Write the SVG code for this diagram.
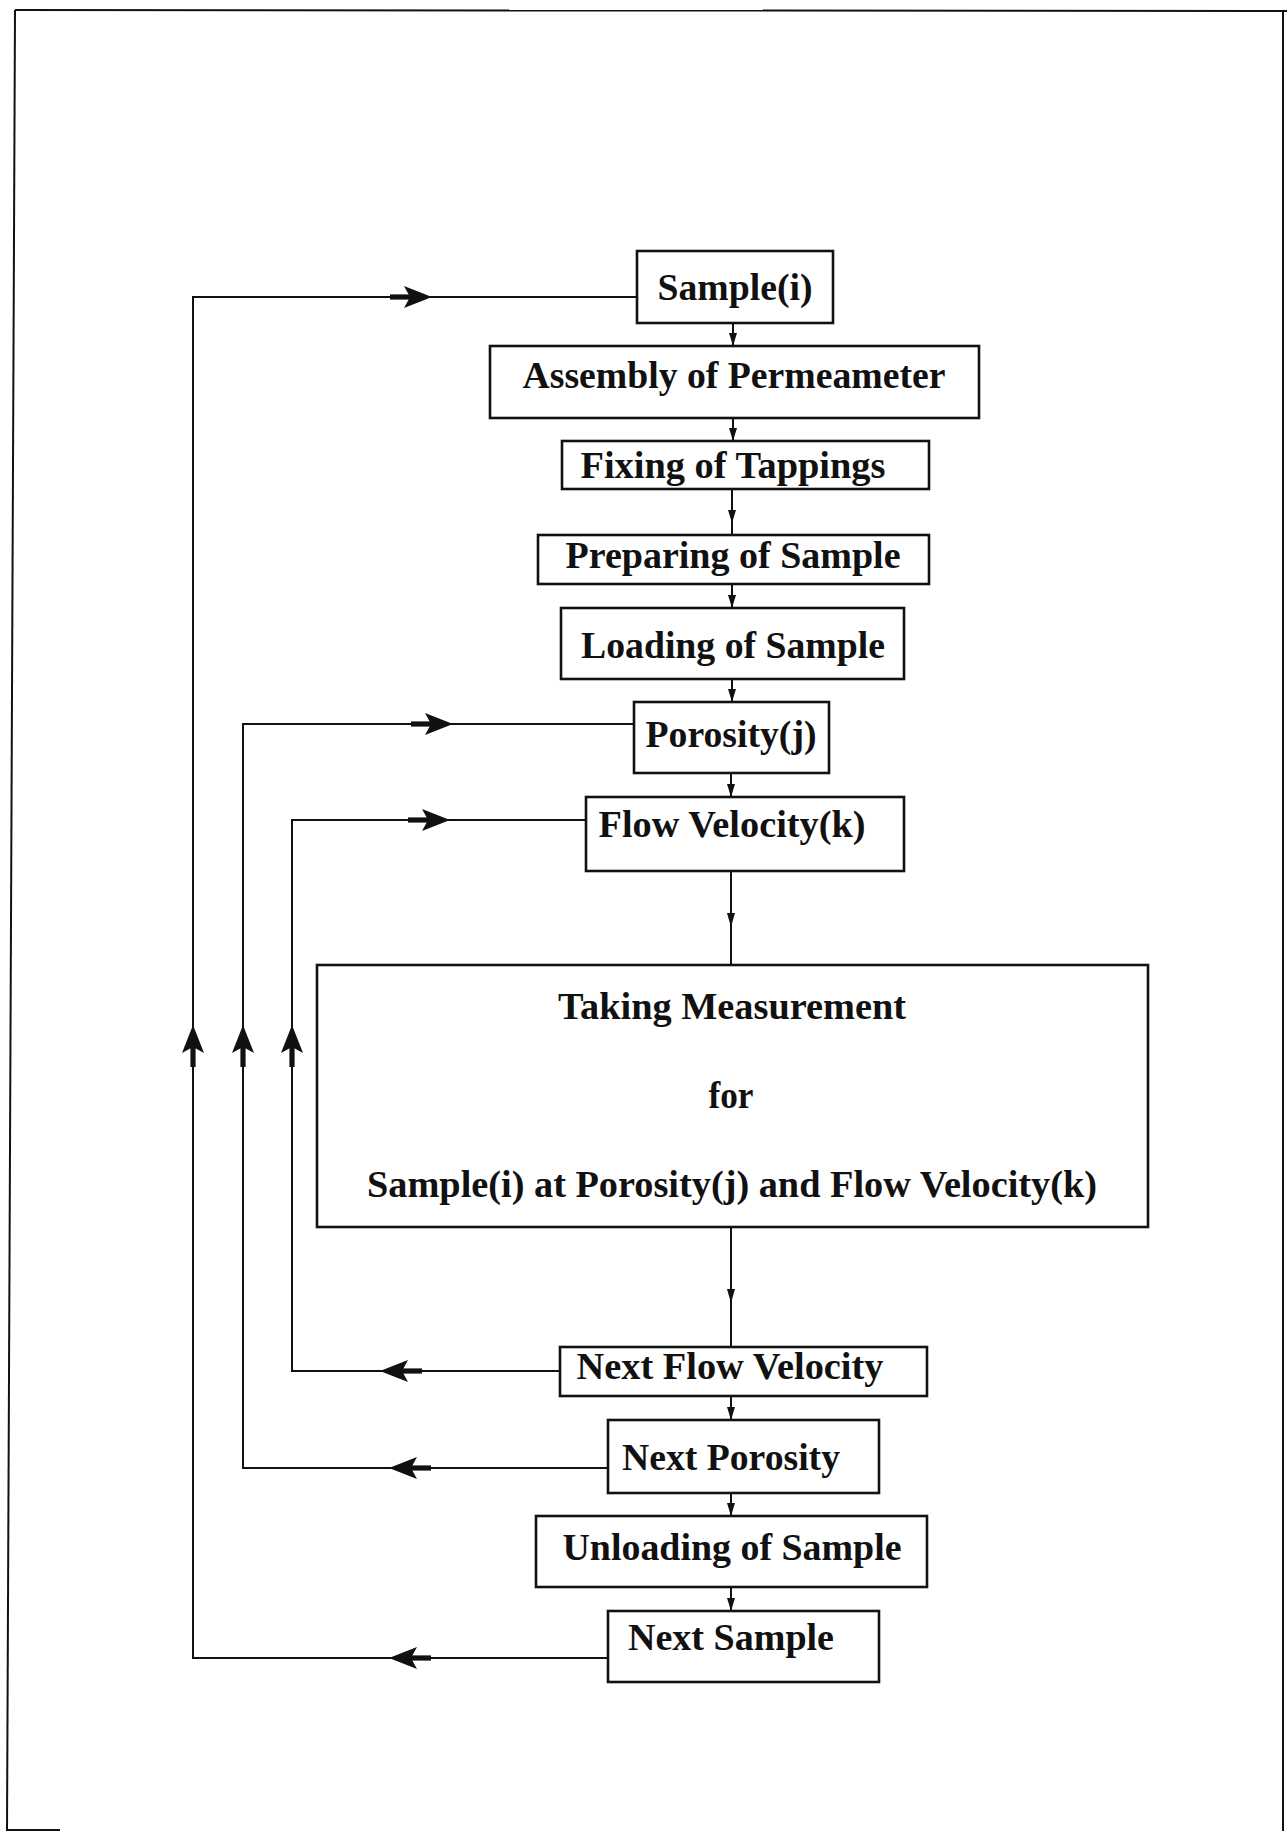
<svg xmlns="http://www.w3.org/2000/svg" width="1287" height="1831" viewBox="0 0 1287 1831">
<style>
.box{fill:#fff;stroke:#111;stroke-width:2.6}
.lbl{font-family:"Liberation Serif","Times New Roman",serif;font-weight:bold;font-size:38px;fill:#111;text-anchor:middle}
.ln{fill:none;stroke:#111;stroke-width:2}
.frame{fill:none;stroke:#111;stroke-width:2}
.sa{fill:#111}
</style>
<defs>
<g id="big">
<polygon points="0,0 -28,-11 -22,0 -28,11" fill="#111"/>
<rect x="-42" y="-2.6" width="21" height="5.2" fill="#111"/>
</g>
</defs>

<g id="frame">
<line class="frame" x1="15" y1="10" x2="1287" y2="11"/>
<line class="frame" x1="15" y1="10" x2="7" y2="1831"/>
<line class="frame" x1="1283" y1="10" x2="1283" y2="1831"/>
<line class="frame" x1="7" y1="1830" x2="60" y2="1830"/>
</g>

<g id="connectors">
<line class="ln" x1="733" y1="323" x2="733" y2="346"/>
<line class="ln" x1="733" y1="418" x2="733" y2="441"/>
<line class="ln" x1="732" y1="489" x2="732" y2="535"/>
<line class="ln" x1="732" y1="584" x2="732" y2="608"/>
<line class="ln" x1="732" y1="679" x2="732" y2="702"/>
<line class="ln" x1="731" y1="773" x2="731" y2="797"/>
<line class="ln" x1="731" y1="871" x2="731" y2="965"/>
<line class="ln" x1="731" y1="1227" x2="731" y2="1347"/>
<line class="ln" x1="731" y1="1396" x2="731" y2="1420"/>
<line class="ln" x1="731" y1="1493" x2="731" y2="1516"/>
<line class="ln" x1="731" y1="1587" x2="731" y2="1611"/>
<polygon class="sa" points="733,346 729,333 737,333"/>
<polygon class="sa" points="733,441 729,428 737,428"/>
<polygon class="sa" points="732,523 728,510 736,510"/>
<polygon class="sa" points="732,608 728,595 736,595"/>
<polygon class="sa" points="732,702 728,689 736,689"/>
<polygon class="sa" points="731,797 727,784 735,784"/>
<polygon class="sa" points="731,927 727,913 735,913"/>
<polygon class="sa" points="731,1303 727,1289 735,1289"/>
<polygon class="sa" points="731,1420 727,1407 735,1407"/>
<polygon class="sa" points="731,1516 727,1503 735,1503"/>
<polygon class="sa" points="731,1611 727,1598 735,1598"/>
<polyline class="ln" points="608,1658 193,1658 193,297 637,297"/>
<polyline class="ln" points="608,1468 243,1468 243,724 634,724"/>
<polyline class="ln" points="560,1371 292,1371 292,820 586,820"/>
<use href="#big" transform="translate(432,297)"/>
<use href="#big" transform="translate(453,724)"/>
<use href="#big" transform="translate(450,820)"/>
<use href="#big" transform="translate(380,1371) rotate(180)"/>
<use href="#big" transform="translate(389,1468) rotate(180)"/>
<use href="#big" transform="translate(389,1658) rotate(180)"/>
<use href="#big" transform="translate(193,1025) rotate(-90)"/>
<use href="#big" transform="translate(243,1025) rotate(-90)"/>
<use href="#big" transform="translate(292,1025) rotate(-90)"/>
</g>

<g id="n-sample"><rect class="box" x="637" y="251" width="196" height="72"/><text class="lbl" x="735" y="300" textLength="155" lengthAdjust="spacingAndGlyphs">Sample(i)</text></g>
<g id="n-assembly"><rect class="box" x="490" y="346" width="489" height="72"/><text class="lbl" x="734" y="388" textLength="423" lengthAdjust="spacingAndGlyphs">Assembly of Permeameter</text></g>
<g id="n-fixing"><rect class="box" x="562" y="441" width="367" height="48"/><text class="lbl" x="733" y="478" textLength="305" lengthAdjust="spacingAndGlyphs">Fixing of Tappings</text></g>
<g id="n-preparing"><rect class="box" x="538" y="535" width="391" height="49"/><text class="lbl" x="733" y="568" textLength="335" lengthAdjust="spacingAndGlyphs">Preparing of Sample</text></g>
<g id="n-loading"><rect class="box" x="561" y="608" width="343" height="71"/><text class="lbl" x="733" y="658" textLength="304" lengthAdjust="spacingAndGlyphs">Loading of Sample</text></g>
<g id="n-porosity"><rect class="box" x="634" y="702" width="195" height="71"/><text class="lbl" x="731" y="747" textLength="171" lengthAdjust="spacingAndGlyphs">Porosity(j)</text></g>
<g id="n-flow"><rect class="box" x="586" y="797" width="318" height="74"/><text class="lbl" x="732" y="837" textLength="267" lengthAdjust="spacingAndGlyphs">Flow Velocity(k)</text></g>
<g id="n-measure"><rect class="box" x="317" y="965" width="831" height="262"/>
<text class="lbl" x="732" y="1019" textLength="348" lengthAdjust="spacingAndGlyphs">Taking Measurement</text>
<text class="lbl" x="731" y="1108" textLength="45" lengthAdjust="spacingAndGlyphs">for</text>
<text class="lbl" x="732" y="1197" textLength="730" lengthAdjust="spacingAndGlyphs">Sample(i) at Porosity(j) and Flow Velocity(k)</text></g>
<g id="n-nextflow"><rect class="box" x="560" y="1347" width="367" height="49"/><text class="lbl" x="730" y="1379" textLength="307" lengthAdjust="spacingAndGlyphs">Next Flow Velocity</text></g>
<g id="n-nextporosity"><rect class="box" x="608" y="1420" width="271" height="73"/><text class="lbl" x="731" y="1470" textLength="218" lengthAdjust="spacingAndGlyphs">Next Porosity</text></g>
<g id="n-unloading"><rect class="box" x="536" y="1516" width="391" height="71"/><text class="lbl" x="732" y="1560" textLength="339" lengthAdjust="spacingAndGlyphs">Unloading of Sample</text></g>
<g id="n-nextsample"><rect class="box" x="608" y="1611" width="271" height="71"/><text class="lbl" x="731" y="1650" textLength="206" lengthAdjust="spacingAndGlyphs">Next Sample</text></g>
</svg>
